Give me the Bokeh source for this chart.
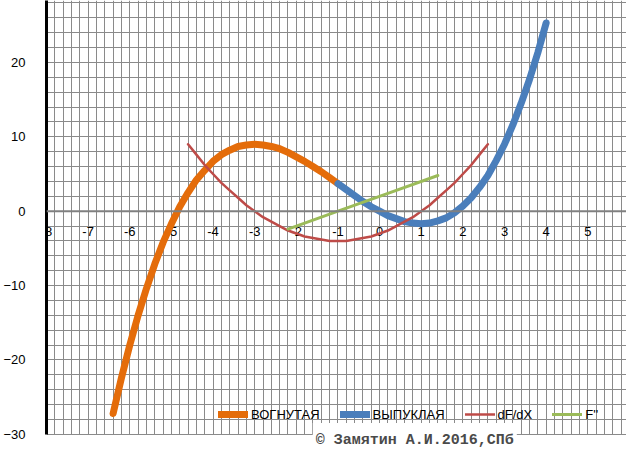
from bokeh.plotting import figure
from bokeh.models import Range1d, Grid, SingleIntervalTicker, FixedTicker, Span, Label, BoxAnnotation
from bokeh.core.properties import value
from bokeh.embed import file_html
from bokeh.resources import INLINE

# ---- data ----
concave_x = [-6.4, -6.2, -6.0, -5.8, -5.6, -5.4, -5.2, -5.0, -4.8, -4.6, -4.4, -4.2, -4.0, -3.8,
             -3.6, -3.4, -3.2, -3.0, -2.8, -2.6, -2.4, -2.2, -2.0, -1.8, -1.6, -1.4, -1.2, -1.0]
concave_y = [-27.2, -22.4, -18.0, -14.0, -10.4, -7.1, -4.2, -1.7, 0.6, 2.5, 4.2, 5.5, 6.7, 7.6,
             8.2, 8.7, 8.9, 9.0, 8.9, 8.7, 8.4, 7.9, 7.3, 6.7, 6.0, 5.3, 4.5, 3.7]

convex_x = [-1.0, -0.8, -0.6, -0.4, -0.2, 0.0, 0.2, 0.4, 0.6, 0.8, 1.0, 1.2, 1.4, 1.6, 1.8,
            2.0, 2.2, 2.4, 2.6, 2.8, 3.0, 3.2, 3.4, 3.6, 3.8, 4.0]
convex_y = [3.7, 2.9, 2.1, 1.3, 0.6, 0.0, -0.6, -1.0, -1.4, -1.6, -1.7, -1.6, -1.3, -0.9, -0.2,
            0.7, 1.8, 3.2, 4.8, 6.8, 9.0, 11.6, 14.5, 17.7, 21.3, 25.3]

dfdx_x = [-4.6, -4.4, -4.2, -4.0, -3.8, -3.6, -3.4, -3.2, -3.0, -2.8, -2.6, -2.4, -2.2, -2.0,
          -1.8, -1.6, -1.4, -1.2, -1.0, -0.8, -0.6, -0.4, -0.2, 0.0, 0.2, 0.4, 0.6, 0.8, 1.0,
          1.2, 1.4, 1.6, 1.8, 2.0, 2.2, 2.4, 2.6]
dfdx_y = [9.0, 7.6, 6.2, 5.0, 3.8, 2.8, 1.8, 0.8, 0.0, -0.8, -1.4, -2.0, -2.6, -3.0,
          -3.4, -3.6, -3.8, -4.0, -4.0, -4.0, -3.8, -3.6, -3.4, -3.0, -2.6, -2.0, -1.4, -0.8, 0.0,
          0.8, 1.8, 2.8, 3.8, 5.0, 6.2, 7.6, 9.0]

f2_x = [-2.2, -1.0, 0.2, 1.4]
f2_y = [-2.4, 0.0, 2.4, 4.8]

x_ticks = [-8, -7, -6, -5, -4, -3, -2, -1, 0, 1, 2, 3, 4, 5]
x_tick_labels = ["-8", "-7", "-6", "-5", "-4", "-3", "-2", "-1", "0", "1", "2", "3", "4", "5"]
y_ticks = [-30, -20, -10, 0, 10, 20]

series_names = ["ВОГНУТАЯ", "ВЫПУКЛАЯ", "dF/dX", "F''"]
copyright_text = "© Замятин А.И.2016,СПб"

X_MIN, X_MAX = -8, 5.93
Y_MIN, Y_MAX = -30, 28.32
Y_VIEW_BOTTOM = -32.3

p = figure(width=626, height=451, output_backend="svg", toolbar_location=None,
           x_range=Range1d(X_MIN, X_MAX), y_range=Range1d(Y_VIEW_BOTTOM, Y_MAX),
           x_axis_location=None,
           min_border_left=44, min_border_right=0, min_border_top=0, min_border_bottom=0)
p.outline_line_color = None
p.background_fill_color = "white"
p.border_fill_color = "white"

# grids
grid_color = "#8a8a8a"
p.ygrid.ticker = SingleIntervalTicker(interval=2, num_minor_ticks=0)
p.ygrid.grid_line_color = grid_color
p.ygrid.grid_line_width = 1
p.add_layout(Grid(dimension=0, ticker=SingleIntervalTicker(interval=0.2, num_minor_ticks=0),
                  grid_line_color=grid_color, grid_line_width=1))

# blank area below the chart bottom
p.add_layout(BoxAnnotation(top=Y_MIN - 0.08, fill_color="white", fill_alpha=1,
                           line_color=None, level="underlay"))

# y axis
yax = p.yaxis[0]
yax.ticker = FixedTicker(ticks=y_ticks)
yax.bounds = (Y_MIN, Y_MAX)
yax.major_tick_line_color = None
yax.minor_tick_line_color = None
yax.axis_line_color = "black"
yax.axis_line_width = 3
yax.major_label_standoff = 15
yax.major_label_text_font = "Liberation Sans"
yax.major_label_text_font_size = "13px"
yax.major_label_text_color = "black"

# horizontal axis line at y=0
p.add_layout(Span(location=0, dimension="width", line_color="#808080", line_width=2))

# x tick labels on the zero line
p.text(x=x_ticks, y=[0] * len(x_ticks), text=x_tick_labels, text_align="center",
       text_baseline="middle", y_offset=20, text_font=value("Liberation Sans"),
       text_font_size="13px", text_color="black")

p.line(concave_x, concave_y, line_color="#E46C0A", line_width=7, line_cap="round",
       line_join="round", legend_label=series_names[0])
p.line(convex_x, convex_y, line_color="#4A7EBB", line_width=7, line_cap="round",
       line_join="round", legend_label=series_names[1])
p.line(dfdx_x, dfdx_y, line_color="#BE4B48", line_width=2.5, line_cap="round",
       line_join="round", legend_label=series_names[2])
p.line(f2_x, f2_y, line_color="#9BBB59", line_width=3, line_cap="round",
       line_join="round", legend_label=series_names[3])

lg = p.legend[0]
lg.location = (172, 27)
lg.orientation = "horizontal"
lg.padding = 0
lg.margin = 0
lg.spacing = 20
lg.glyph_width = 30
lg.glyph_height = 20
lg.label_standoff = 3
lg.label_text_font = "Liberation Sans"
lg.label_text_font_size = "13px"
lg.label_text_color = "black"
lg.border_line_color = None
lg.background_fill_alpha = 0

p.add_layout(Label(x=0.845, y=Y_MIN, text=copyright_text, text_align="center",
                   text_baseline="middle", y_offset=-6, background_fill_color="white",
                   padding=(3, 9), text_font="Liberation Mono", text_font_style="bold",
                   text_font_size="15px", text_color="#4a4a4a"))

open("out.html", "w").write(file_html(p, INLINE))
